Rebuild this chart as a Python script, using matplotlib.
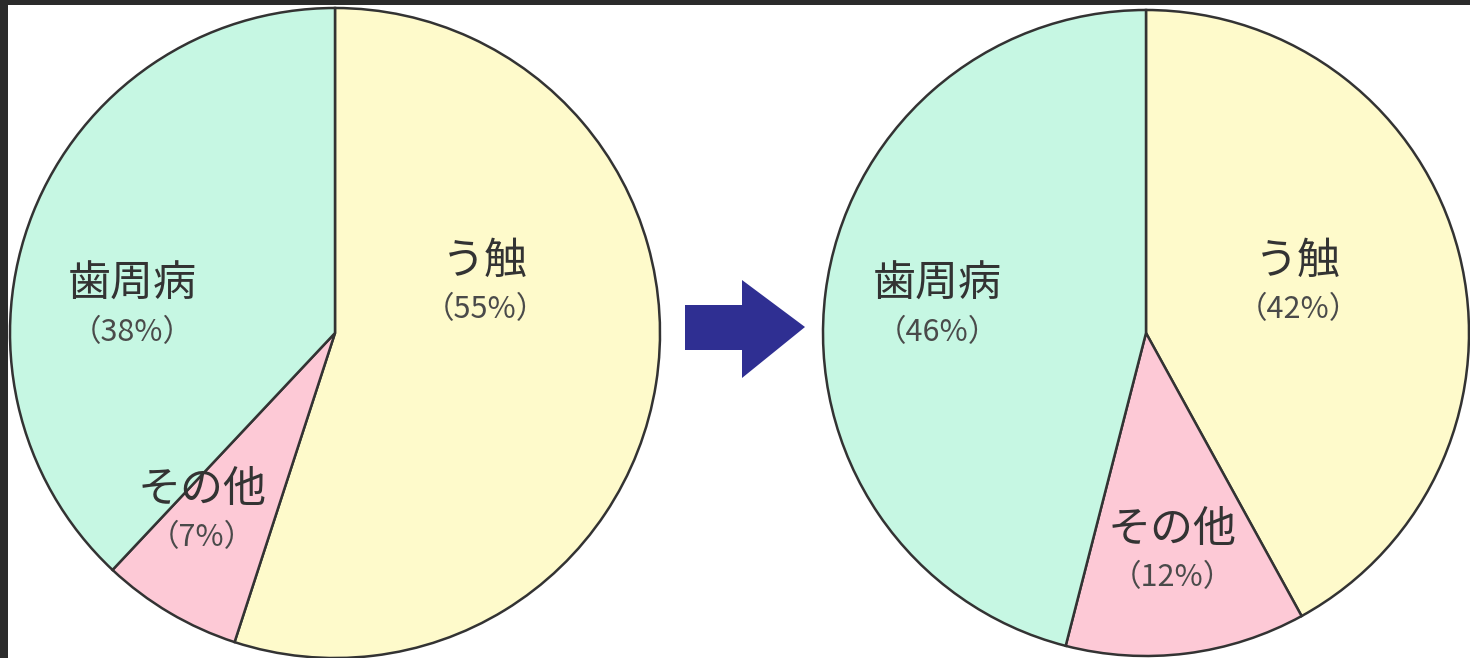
import matplotlib
matplotlib.use("Agg")
import matplotlib.pyplot as plt
from matplotlib.patches import Polygon

plt.rcParams['font.family'] = ['Noto Sans CJK JP', 'DejaVu Sans']

# 歯科疾患の内訳（左：以前、右：現在）
categories = ['う触', 'その他', '歯周病']
before = [55, 7, 38]
after = [42, 12, 46]
colors = ['#fefacb', '#fdc9d6', '#c6f7e3']

W, H = 1470, 658
fig = plt.figure(figsize=(W / 100, H / 100), dpi=100, facecolor='#2b2b2b')
ax = fig.add_axes([8 / W, 0, (W - 8) / W, (H - 5) / H])

def draw_pie(values, cx, cy, r):
    wedges, _ = ax.pie(values, colors=colors, startangle=90, counterclock=False,
                       center=(cx, H - cy), radius=r, frame=True,
                       wedgeprops=dict(edgecolor='#333333', linewidth=1.8))
    return wedges

draw_pie(before, 335, 333, 325)
draw_pie(after, 1146, 333, 323)

ax.set_facecolor('white')
ax.set_xlim(8, W)
ax.set_ylim(0, H - 5)
ax.set_aspect('equal')
ax.set_xticks([])
ax.set_yticks([])
for s in ax.spines.values():
    s.set_visible(False)

# ラベル（名称と割合）
def label(name, pct, x, y):
    ax.text(x, H - y, name, ha='center', va='center', fontsize=31, color='#333333')
    ax.text(x, H - y - 48, f'（{pct}%）', ha='center', va='center', fontsize=22,
            color='#4a4a4a')

label(categories[2], before[2], 132, 285)
label(categories[0], before[0], 485, 262)
label(categories[1], before[1], 202, 490)
label(categories[2], after[2], 937, 285)
label(categories[0], after[0], 1298, 262)
label(categories[1], after[1], 1172, 530)

# 中央の矢印
arrow = [(685, 305), (742, 305), (742, 280), (805, 327), (742, 378),
         (742, 350), (685, 350)]
ax.add_patch(Polygon([(x, H - y) for x, y in arrow], closed=True,
                     facecolor='#2f2f92', edgecolor='none'))

fig.savefig('out.png', dpi=100, facecolor=fig.get_facecolor())
